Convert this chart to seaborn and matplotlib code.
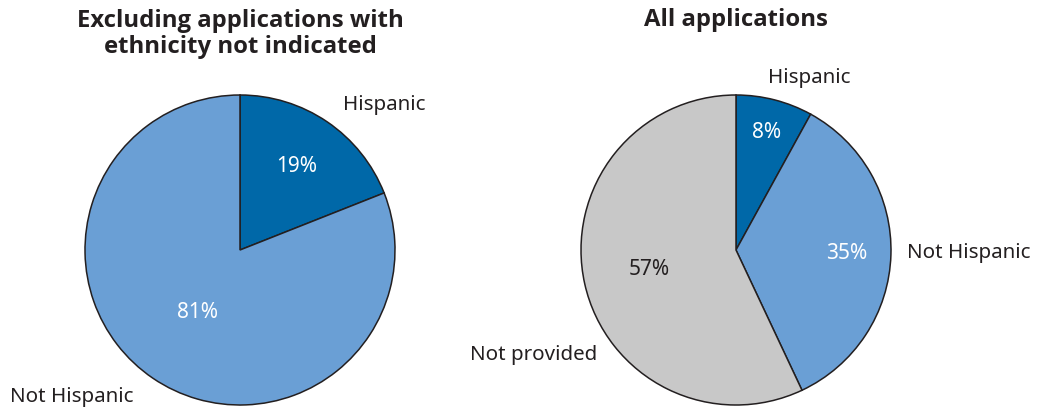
import numpy as np
import matplotlib
matplotlib.use("Agg")
import matplotlib.pyplot as plt
import seaborn as sns

# data
left_labels = ["Hispanic", "Not Hispanic"]
left_values = [19, 81]
right_labels = ["Hispanic", "Not Hispanic", "Not provided"]
right_values = [8, 35, 57]

left_title = "Excluding applications with\nethnicity not indicated"
right_title = "All applications"

sns.set_theme(style="white")
plt.rcParams["font.family"] = ["Noto Sans", "DejaVu Sans"]

c_dark = "#0068A8"
c_light = "#6A9FD5"
c_grey = "#C8C8C8"
txt = "#231F20"

W, H = 1039, 408
fig = plt.figure(figsize=(W / 100, H / 100), dpi=100)


def pie_axes(cx, cy, r):
    # pixel centre/radius (from top-left) -> axes with data range [-1, 1]
    ax = fig.add_axes([(cx - r) / W, (H - cy - r) / H, 2 * r / W, 2 * r / H])
    ax.set_aspect("equal")
    ax.axis("off")
    return ax


def draw(ax, values, colors, pct_r, pct_colors, names, name_pos):
    wedges, _ = ax.pie(values, colors=colors, startangle=90, counterclock=False,
                       radius=1, center=(0, 0), frame=True,
                       wedgeprops=dict(edgecolor=txt, linewidth=1.1))
    ax.set_xlim(-1, 1)
    ax.set_ylim(-1, 1)
    ax.axis("off")
    for w, v, r, pc in zip(wedges, values, pct_r, pct_colors):
        mid = np.deg2rad((w.theta1 + w.theta2) / 2)
        ax.text(r * np.cos(mid), r * np.sin(mid), f"{v}%", ha="center", va="center",
                fontsize=15, color=pc)
    for n, (x, y) in zip(names, name_pos):
        ax.text(x, y, n, ha="left", va="center", fontsize=14.8, color=txt, clip_on=False)


axl = pie_axes(240, 250, 155)
draw(axl, left_values, [c_dark, c_light], [0.65, 0.49], ["white", "white"],
     left_labels, [(0.665, 0.935), (-1.484, -0.948)])

axr = pie_axes(736, 250, 155)
draw(axr, right_values, [c_dark, c_light, c_grey], [0.78, 0.716, 0.576],
     ["white", "white", txt], right_labels,
     [(0.206, 1.11), (1.103, -0.019), (-1.716, -0.677)])

tfont = ["Open Sans", "DejaVu Sans"]
fig.text(240 / W, 1 - 34 / H, left_title, ha="center", va="center", fontsize=17.2,
         fontweight="bold", family=tfont, color=txt, linespacing=1.1)
fig.text(736 / W, 1 - 20 / H, right_title, ha="center", va="center", fontsize=17.2,
         fontweight="bold", family=tfont, color=txt)

fig.savefig("out.png", dpi=100, facecolor="white")
